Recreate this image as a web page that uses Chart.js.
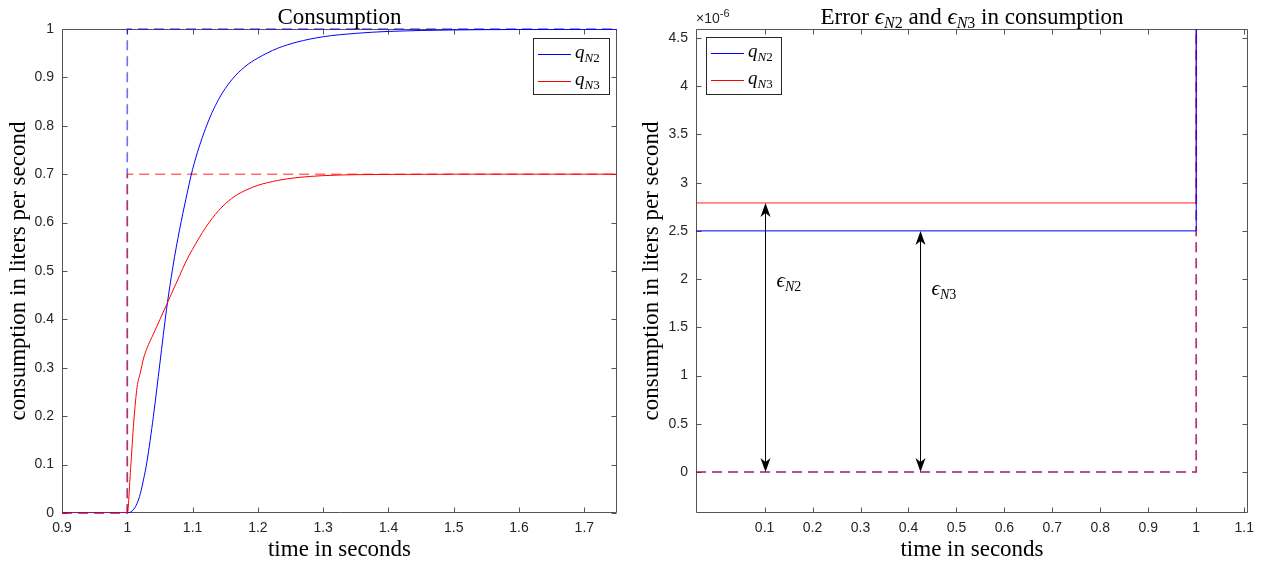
<!DOCTYPE html>
<html>
<head>
<meta charset="utf-8">
<script src="https://cdn.jsdelivr.net/npm/chart.js@4.4.0/dist/chart.umd.min.js"></script>
<style>
  body { margin: 0; background: #fff; }
  #wrap { position: relative; width: 1261px; height: 562px; }
  canvas { position: absolute; top: 0; }
  #left { left: 0; }
  #right { left: 640px; }
</style>
</head>
<body>
<div id="wrap">
  <canvas id="left" width="640" height="562"></canvas>
  <canvas id="right" width="621" height="562"></canvas>
</div>
<script>
const SERIF = '"Liberation Serif", "DejaVu Serif", serif';
const SANS = '"Liberation Sans", Arial, sans-serif';
const AXIS_COLOR = '#262626';

// left plot: consumption after the step at t = 1 s
const timeSteps = [0.9, 1.0, 1.005, 1.01, 1.015, 1.02, 1.025, 1.03, 1.04, 1.05, 1.06, 1.07, 1.08, 1.09, 1.1,
  1.12, 1.14, 1.16, 1.18, 1.2, 1.23, 1.26, 1.3, 1.35, 1.4, 1.5, 1.6, 1.75];
const flowN2 = [0, 0, 0.002, 0.008, 0.02, 0.04, 0.07, 0.105, 0.2, 0.31, 0.42, 0.51, 0.585, 0.65, 0.71,
  0.795, 0.855, 0.895, 0.922, 0.94, 0.96, 0.973, 0.984, 0.991, 0.995, 0.998, 0.999, 0.9995];
const flowN3 = [0, 0, 0.09, 0.19, 0.26, 0.29, 0.32, 0.34, 0.37, 0.40, 0.43, 0.46, 0.49, 0.52, 0.545,
  0.59, 0.625, 0.65, 0.666, 0.677, 0.687, 0.693, 0.697, 0.699, 0.6995, 0.7, 0.7, 0.7];
const refTime = [0.9, 1, 1, 1.75];
const refN2 = [0, 0, 1, 1];
const refN3 = [0, 0, 0.7, 0.7];
const leftXTicks = [0.9, 1, 1.1, 1.2, 1.3, 1.4, 1.5, 1.6, 1.7];
const leftYTicks = [0, 0.1, 0.2, 0.3, 0.4, 0.5, 0.6, 0.7, 0.8, 0.9, 1];

// right plot: error, values in units of 1e-6
const errTime = [-0.043, 1, 1];
const errN2 = [2.5, 2.5, 60];
const errN3 = [2.79, 2.79, 60];
const errRef = [0, 0, 60];
const rightXTicks = [0.1, 0.2, 0.3, 0.4, 0.5, 0.6, 0.7, 0.8, 0.9, 1, 1.1];
const rightYTicks = [0, 0.5, 1, 1.5, 2, 2.5, 3, 3.5, 4, 4.5];
const arrowTimes = [0.1, 0.424];
const arrowTops = [2.79, 2.5];
const arrowNames = ['N2', 'N3'];
const arrowLabelY = [1.97, 1.89];

const pts = (xs, ys) => xs.map((x, i) => ({ x: x, y: ys[i] }));

// draws a row of text pieces [text, font, dy]
function drawRich(ctx, parts, x, y, align) {
  let w = 0;
  parts.forEach(p => { ctx.font = p[1]; w += ctx.measureText(p[0]).width; });
  let cx = align === 'center' ? x - w / 2 : x;
  ctx.textAlign = 'left';
  ctx.textBaseline = 'alphabetic';
  parts.forEach(p => {
    ctx.font = p[1];
    ctx.fillText(p[0], cx, y + (p[2] || 0));
    cx += ctx.measureText(p[0]).width;
  });
}

function subLabel(main, sub, size) {
  const s = Math.round(size * 0.7);
  return [
    [main, 'italic ' + size + 'px ' + SERIF, 0],
    [sub[0], 'italic ' + s + 'px ' + SERIF, 4],
    [sub.slice(1), s + 'px ' + SERIF, 4]
  ];
}

const framePlugin = {
  id: 'frame',
  beforeDatasetsDraw(chart) {
    const { ctx, chartArea: a, scales: { x, y } } = chart;
    const L = Math.round(a.left) + 0.5, R = Math.round(a.right) - 0.5;
    const T = Math.round(a.top) + 0.5, B = Math.round(a.bottom) - 0.5;
    const len = 5;
    ctx.save();
    ctx.strokeStyle = '#555';
    ctx.lineWidth = 1;
    ctx.beginPath();
    ctx.rect(L, T, R - L, B - T);
    x.ticks.forEach(t => {
      const px = Math.round(x.getPixelForValue(t.value)) + 0.5;
      ctx.moveTo(px, B); ctx.lineTo(px, B - len);
      ctx.moveTo(px, T); ctx.lineTo(px, T + len);
    });
    y.ticks.forEach(t => {
      const py = Math.round(y.getPixelForValue(t.value)) + 0.5;
      ctx.moveTo(L, py); ctx.lineTo(L + len, py);
      ctx.moveTo(R, py); ctx.lineTo(R - len, py);
    });
    ctx.stroke();
    ctx.restore();
  }
};

const textPlugin = {
  id: 'texts',
  afterDraw(chart, args, opts) {
    const { ctx, chartArea: a } = chart;
    ctx.save();
    ctx.fillStyle = '#000';
    // title
    drawRich(ctx, opts.title, (a.left + a.right) / 2, 24, 'center');
    // legend box
    const lg = opts.legend;
    const bx = lg.fromRight ? a.right - lg.dx - lg.w : a.left + lg.dx;
    const by = a.top + lg.dy;
    ctx.fillStyle = '#fff';
    ctx.fillRect(bx, by, lg.w, lg.h);
    ctx.strokeStyle = '#262626';
    ctx.lineWidth = 1;
    ctx.strokeRect(Math.round(bx) + 0.5, Math.round(by) + 0.5, lg.w, lg.h);
    lg.items.forEach((it, i) => {
      const ry = Math.round(by + 16 + i * 27) + 0.5;
      ctx.strokeStyle = it.color;
      ctx.beginPath();
      ctx.moveTo(bx + 5, ry);
      ctx.lineTo(bx + 38, ry);
      ctx.stroke();
      ctx.fillStyle = '#000';
      drawRich(ctx, subLabel('q', it.sub, 19), bx + 42, ry + 3);
    });
    if (opts.exponent) {
      ctx.fillStyle = AXIS_COLOR;
      drawRich(ctx, [['\u00d710', '14px ' + SANS, 0], ['-6', '11px ' + SANS, -6]], a.left, 23);
    }
    ctx.restore();
  }
};

const arrowPlugin = {
  id: 'arrows',
  afterDatasetsDraw(chart, args, opts) {
    if (!opts.show) return;
    const { ctx, scales: { x, y } } = chart;
    ctx.save();
    ctx.strokeStyle = '#000';
    ctx.fillStyle = '#000';
    ctx.lineWidth = 1;
    const head = (px, tip, dir) => {
      ctx.beginPath();
      ctx.moveTo(px, tip);
      ctx.lineTo(px - 5, tip + dir * 14);
      ctx.lineTo(px, tip + dir * 10);
      ctx.lineTo(px + 5, tip + dir * 14);
      ctx.closePath();
      ctx.fill();
    };
    arrowTimes.forEach((t, i) => {
      const px = Math.round(x.getPixelForValue(t)) + 0.5;
      const y0 = y.getPixelForValue(0);
      const y1 = y.getPixelForValue(arrowTops[i]);
      ctx.beginPath();
      ctx.moveTo(px, y0 - 8);
      ctx.lineTo(px, y1 + 8);
      ctx.stroke();
      head(px, y1, 1);
      head(px, y0, -1);
      drawRich(ctx, [['\u03f5', 'italic 21px ' + SERIF, 0], ['N', 'italic 14px ' + SERIF, 4],
        [arrowNames[i].slice(1), '14px ' + SERIF, 4]], px + 11, y.getPixelForValue(arrowLabelY[i]) + 5);
    });
    ctx.restore();
  }
};

function axisOptions(min, max, tickList, fitSize, horizontal, titleText, titlePad) {
  return {
    type: 'linear',
    min: min,
    max: max,
    grid: { display: false, drawTicks: false },
    border: { display: false },
    afterBuildTicks: axis => { axis.ticks = tickList.map(v => ({ value: v })); },
    afterFit: s => { if (horizontal) { s.height = fitSize; } else { s.width = fitSize; } },
    ticks: {
      color: AXIS_COLOR,
      font: { family: SANS, size: 14 },
      padding: horizontal ? 7 : 8,
      maxRotation: 0,
      autoSkip: false,
      callback: v => String(Math.round(v * 100) / 100)
    },
    title: {
      display: true,
      text: titleText,
      color: '#000',
      font: { family: SERIF, size: 23, lineHeight: 1 },
      padding: titlePad
    }
  };
}

const lineStyle = (color, width, dash) => ({
  borderColor: color,
  borderWidth: width,
  borderDash: dash || [],
  pointRadius: 0,
  fill: false
});

Chart.defaults.animation = false;

new Chart(document.getElementById('left'), {
  type: 'line',
  data: {
    datasets: [
      Object.assign({ label: 'q_N3', data: pts(timeSteps, flowN3), cubicInterpolationMode: 'monotone' }, lineStyle('#ff0000', 1)),
      Object.assign({ label: 'q_N2', data: pts(timeSteps, flowN2), cubicInterpolationMode: 'monotone' }, lineStyle('#0000ff', 1)),
      Object.assign({ label: 'ref N3', data: pts(refTime, refN3), clip: 3 }, lineStyle('rgba(255,0,0,0.58)', 1.6, [10, 6])),
      Object.assign({ label: 'ref N2', data: pts(refTime, refN2), clip: 3 }, lineStyle('rgba(0,0,255,0.58)', 1.6, [10, 6]))
    ]
  },
  options: {
    responsive: false,
    devicePixelRatio: 1,
    layout: { padding: { top: 29, right: 23, bottom: 0, left: 0 } },
    scales: {
      x: axisOptions(0.9, 1.75, leftXTicks, 49, true, 'time in seconds', { top: 0, bottom: 1 }),
      y: axisOptions(0, 1, leftYTicks, 62, false, 'consumption in liters per second', { top: 7, bottom: 0 })
    },
    plugins: {
      legend: { display: false },
      tooltip: { enabled: false },
      texts: {
        title: [['Consumption', '23px ' + SERIF, 0]],
        legend: { fromRight: true, dx: 8, dy: 9, w: 76, h: 56,
          items: [{ color: '#0000ff', sub: 'N2' }, { color: '#ff0000', sub: 'N3' }] }
      },
      arrows: { show: false }
    }
  },
  plugins: [framePlugin, textPlugin, arrowPlugin]
});

new Chart(document.getElementById('right'), {
  type: 'line',
  data: {
    datasets: [
      Object.assign({ label: 'q_N2', data: pts(errTime, errN2) }, lineStyle('#0000ff', 1)),
      Object.assign({ label: 'q_N3', data: pts(errTime, errN3) }, lineStyle('rgba(255,0,0,0.5)', 1.6)),
      Object.assign({ label: 'ref N3', data: pts(errTime, errRef) }, lineStyle('rgba(255,0,0,0.58)', 1.6, [10, 6])),
      Object.assign({ label: 'ref N2', data: pts(errTime, errRef) }, lineStyle('rgba(0,0,255,0.58)', 1.6, [10, 6]))
    ]
  },
  options: {
    responsive: false,
    devicePixelRatio: 1,
    layout: { padding: { top: 29, right: 10, bottom: 0, left: 0 } },
    scales: {
      x: axisOptions(-0.043, 1.108, rightXTicks, 49, true, 'time in seconds', { top: 0, bottom: 1 }),
      y: axisOptions(-0.425, 4.593, rightYTicks, 56, false, 'consumption in liters per second', { top: 0, bottom: 0 })
    },
    plugins: {
      legend: { display: false },
      tooltip: { enabled: false },
      texts: {
        title: [['Error ', '23px ' + SERIF, 0], ...subLabel('\u03f5', 'N2', 23), [' and ', '23px ' + SERIF, 0],
          ...subLabel('\u03f5', 'N3', 23), [' in consumption', '23px ' + SERIF, 0]],
        legend: { fromRight: false, dx: 10, dy: 8, w: 75, h: 57,
          items: [{ color: '#0000ff', sub: 'N2' }, { color: '#ff0000', sub: 'N3' }] },
        exponent: true
      },
      arrows: { show: true }
    }
  },
  plugins: [framePlugin, textPlugin, arrowPlugin]
});
</script>
</body>
</html>
